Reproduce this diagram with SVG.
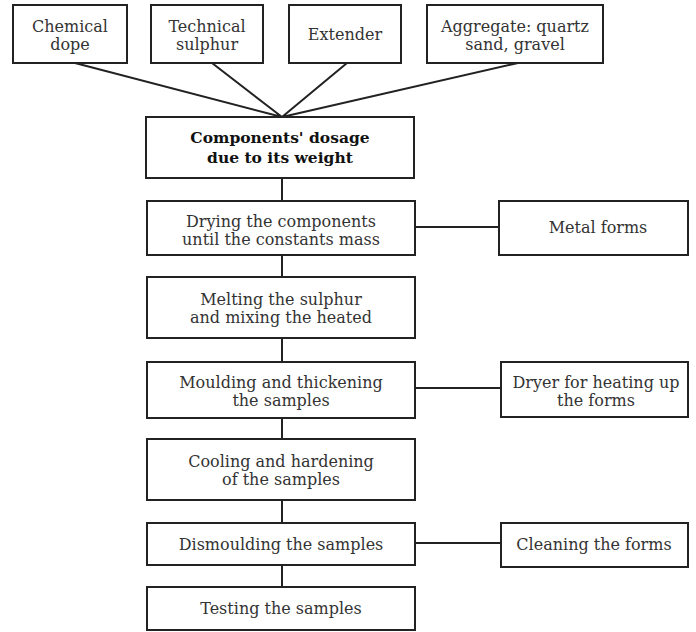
<svg xmlns="http://www.w3.org/2000/svg" width="696" height="632" viewBox="0 0 696 632">
<style>
.box{fill:#fff;stroke:#222;stroke-width:2}
.ln{stroke:#222;stroke-width:2;fill:none}
text{font-family:"DejaVu Serif","Liberation Serif",serif;font-size:16px;fill:#333;text-anchor:middle}
.b{font-weight:bold;fill:#111;font-size:15.5px}
</style>
<rect width="696" height="632" fill="#fff"/>
<g id="connectors">
<path class="ln" d="M75 63L282 117M212 63L282 117M347 63L282 117M518 63L282 117"/>
<path class="ln" d="M282 178V201M282 255V277M282 338V362M282 418V439M282 500V523M282 565V587"/>
<path class="ln" d="M415 227H499M415 388H501M415 543H501"/>
</g>
<g id="n-chem"><rect class="box" x="13" y="5" width="114" height="58"/><text x="70" y="32">Chemical</text><text x="70" y="50">dope</text></g>
<g id="n-tech"><rect class="box" x="151" y="5" width="112" height="58"/><text x="207" y="32">Technical</text><text x="207" y="50">sulphur</text></g>
<g id="n-ext"><rect class="box" x="289" y="5" width="112" height="58"/><text x="345" y="40">Extender</text></g>
<g id="n-agg"><rect class="box" x="427" y="5" width="176" height="58"/><text x="515" y="32">Aggregate: quartz</text><text x="515" y="50">sand, gravel</text></g>
<g id="n-dose"><rect class="box" x="146" y="117" width="268" height="61"/><text class="b" x="280" y="143">Components' dosage</text><text class="b" x="280" y="163">due to its weight</text></g>
<g id="n-dry"><rect class="box" x="147" y="201" width="268" height="54"/><text x="281" y="227">Drying the components</text><text x="281" y="245">until the constants mass</text></g>
<g id="n-melt"><rect class="box" x="147" y="277" width="268" height="61"/><text x="281" y="305">Melting the sulphur</text><text x="281" y="323">and mixing the heated</text></g>
<g id="n-mould"><rect class="box" x="147" y="362" width="268" height="56"/><text x="281" y="388">Moulding and thickening</text><text x="281" y="406">the samples</text></g>
<g id="n-cool"><rect class="box" x="147" y="439" width="268" height="61"/><text x="281" y="467">Cooling and hardening</text><text x="281" y="485">of the samples</text></g>
<g id="n-dism"><rect class="box" x="147" y="523" width="268" height="42"/><text x="281" y="550">Dismoulding the samples</text></g>
<g id="n-test"><rect class="box" x="147" y="587" width="268" height="43"/><text x="281" y="614">Testing the samples</text></g>
<g id="n-metal"><rect class="box" x="499" y="201" width="189" height="54"/><text x="598" y="233">Metal forms</text></g>
<g id="n-dryer"><rect class="box" x="501" y="362" width="187" height="55"/><text x="596" y="388">Dryer for heating up</text><text x="596" y="406">the forms</text></g>
<g id="n-clean"><rect class="box" x="501" y="523" width="187" height="44"/><text x="594" y="550">Cleaning the forms</text></g>
</svg>
